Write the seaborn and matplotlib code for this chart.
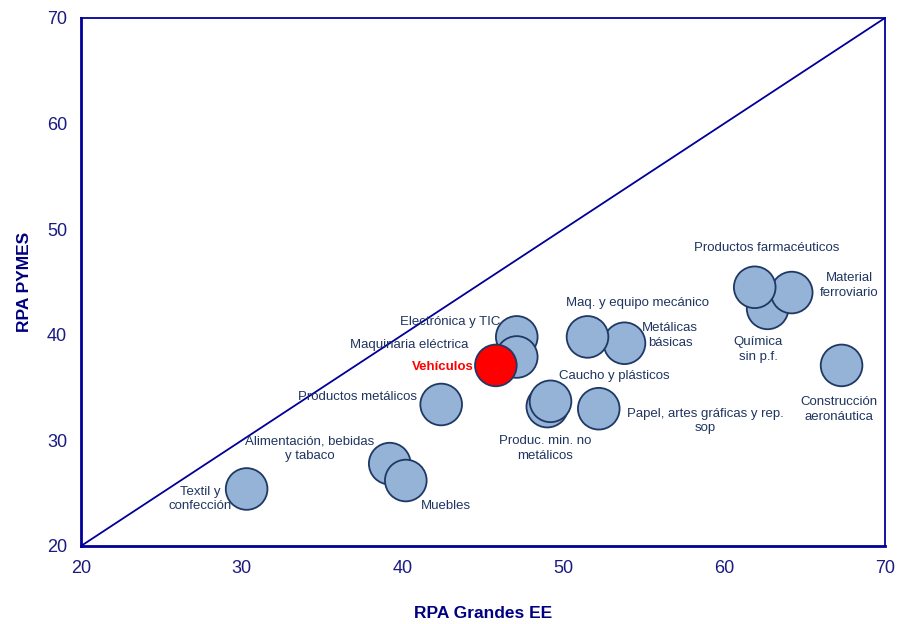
import pandas as pd
import matplotlib
matplotlib.use('Agg')
import matplotlib.pyplot as plt
import seaborn as sns

# RPA por sector: grandes empresas (x) vs pymes (y)
sectores = ['Textil y confección', 'Alimentación, bebidas y tabaco', 'Muebles',
            'Productos metálicos', 'Electrónica y TIC', 'Maquinaria eléctrica',
            'Vehículos', 'Produc. min. no metálicos', 'Caucho y plásticos',
            'Papel, artes gráficas y rep. sop', 'Metálicas básicas',
            'Maq. y equipo mecánico', 'Química sin p.f.', 'Material ferroviario',
            'Productos farmacéuticos', 'Construcción aeronáutica']
rpa_grandes = [30.3, 39.2, 40.2, 42.4, 47.1, 47.1, 45.8, 49.0, 49.2,
               52.2, 53.8, 51.5, 62.7, 64.2, 61.9, 67.3]
rpa_pymes = [25.4, 27.8, 26.2, 33.4, 39.8, 37.9, 37.1, 33.2, 33.7,
             33.0, 39.2, 39.8, 42.5, 44.0, 44.5, 37.1]

# texto de las etiquetas y su posicion (en unidades de los ejes)
etiquetas = ['Textil y\nconfección', 'Alimentación, bebidas\ny tabaco', 'Muebles',
             'Productos metálicos', 'Electrónica y TIC', 'Maquinaria eléctrica',
             'Vehículos', 'Produc. min. no\nmetálicos', 'Caucho y plásticos',
             'Papel, artes gráficas y rep.\nsop', 'Metálicas\nbásicas',
             'Maq. y equipo mecánico', 'Química\nsin p.f.', 'Material\nferroviario',
             'Productos farmacéuticos', 'Construcción\naeronáutica']
etq_x = [27.4, 34.2, 42.7, 37.2, 42.95, 40.4, 42.5, 48.85, 53.15,
         58.85, 56.65, 54.6, 62.1, 67.8, 62.65, 67.15]
etq_y = [24.45, 29.2, 23.8, 34.1, 41.2, 39.05, 36.95, 29.2, 36.1,
         31.85, 39.9, 43.0, 38.6, 44.7, 48.2, 32.95]

df = pd.DataFrame({'sector': sectores, 'grandes': rpa_grandes, 'pymes': rpa_pymes})
df['grupo'] = ['Vehículos' if s == 'Vehículos' else 'Resto' for s in df['sector']]

sns.set_style('white')
plt.rcParams['font.family'] = ['Liberation Sans', 'DejaVu Sans']

eje = '#000099'
texto = '#1F3560'

fig = plt.figure(figsize=(8.97, 6.24), dpi=100)
ax = fig.add_axes([0.0903, 0.125, 0.8963, 0.8462])

ax.plot([20, 70], [20, 70], color=eje, lw=1.3, zorder=1)

sns.scatterplot(data=df, x='grandes', y='pymes', hue='grupo',
                palette={'Resto': '#95B3D7', 'Vehículos': '#FF0000'},
                s=900, edgecolor='#1F3864', linewidth=1.3, legend=False,
                ax=ax, zorder=3)

for t, x, y in zip(etiquetas, etq_x, etq_y):
    if t == 'Vehículos':
        ax.text(x, y, t, color='#FF0000', fontsize=9.5, fontweight='bold',
                ha='center', va='center', zorder=4)
    else:
        ax.text(x, y, t, color=texto, fontsize=9.5, ha='center', va='center',
                linespacing=1.3, zorder=4)

ax.set_xlim(20, 70)
ax.set_ylim(20, 70)
ax.set_xticks([20, 30, 40, 50, 60, 70])
ax.set_yticks([20, 30, 40, 50, 60, 70])
ax.tick_params(colors=eje, labelcolor='#1a1a80', labelsize=13, length=5,
               width=1.3, direction='out', pad=5)

for lado in ['left', 'bottom']:
    ax.spines[lado].set_color(eje)
    ax.spines[lado].set_linewidth(2)
for lado in ['top', 'right']:
    ax.spines[lado].set_color(eje)
    ax.spines[lado].set_linewidth(1.3)

ax.set_xlabel('RPA Grandes EE', color='#000080', fontsize=12.5,
              fontweight='bold', labelpad=21)
ax.set_ylabel('RPA PYMES', color='#000080', fontsize=12.5,
              fontweight='bold', labelpad=11)

fig.savefig('out.png', dpi=100)
